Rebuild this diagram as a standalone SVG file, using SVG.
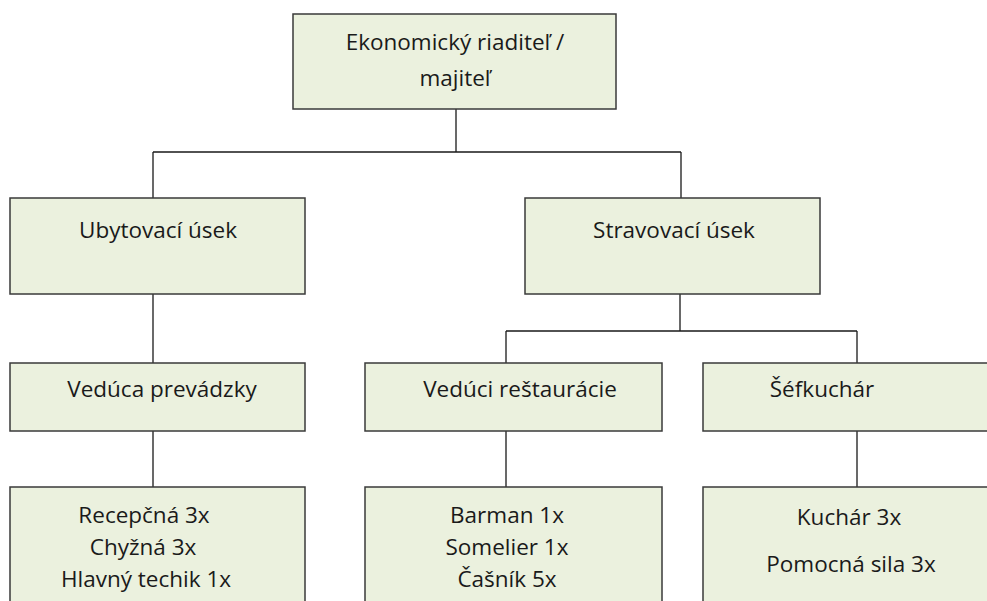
<svg xmlns="http://www.w3.org/2000/svg" width="987" height="601" viewBox="0 0 987 601">
<style>
.box{fill:#EBF1DE;stroke:#3a3a3a;stroke-width:1.5}
.conn{fill:none;stroke:#1a1a1a;stroke-width:1.3}
text{font-family:"Open Sans","Liberation Sans",sans-serif;font-size:22.5px;fill:#1a1a1a;text-anchor:middle}
</style>
<rect width="987" height="601" fill="#ffffff"/>
<g id="connectors">
<path class="conn" d="M456 109V152M153 152H681M153 152V198M681 152V198"/>
<path class="conn" d="M153 294V363"/>
<path class="conn" d="M680 294V331M506 331H857M506 331V363M857 331V363"/>
<path class="conn" d="M153 431V487M506 431V487M857 431V487"/>
</g>
<g id="n-top"><rect class="box" x="293" y="14" width="323" height="95"/><text x="455" y="50">Ekonomický riaditeľ /</text><text x="455" y="86">majiteľ</text></g>
<g id="n-ubyt"><rect class="box" x="10" y="198" width="295" height="96"/><text x="158" y="238">Ubytovací úsek</text></g>
<g id="n-strav"><rect class="box" x="525" y="198" width="295" height="96"/><text x="674" y="238">Stravovací úsek</text></g>
<g id="n-veduca"><rect class="box" x="10" y="363" width="295" height="68"/><text x="162" y="397">Vedúca prevádzky</text></g>
<g id="n-veduci"><rect class="box" x="365" y="363" width="297" height="68"/><text x="520" y="397">Vedúci reštaurácie</text></g>
<g id="n-sef"><rect class="box" x="703" y="363" width="300" height="68"/><text x="822" y="397">Šéfkuchár</text></g>
<g id="n-ubyt-staff"><rect class="box" x="10" y="487" width="295" height="130"/><text x="144" y="523">Recepčná 3x</text><text x="143" y="555">Chyžná 3x</text><text x="146" y="587">Hlavný techik 1x</text></g>
<g id="n-rest-staff"><rect class="box" x="365" y="487" width="297" height="130"/><text x="507" y="523">Barman 1x</text><text x="507" y="555">Somelier 1x</text><text x="507" y="587">Čašník 5x</text></g>
<g id="n-kuch-staff"><rect class="box" x="703" y="487" width="300" height="130"/><text x="849" y="525">Kuchár 3x</text><text x="851" y="572">Pomocná sila 3x</text></g>
</svg>
